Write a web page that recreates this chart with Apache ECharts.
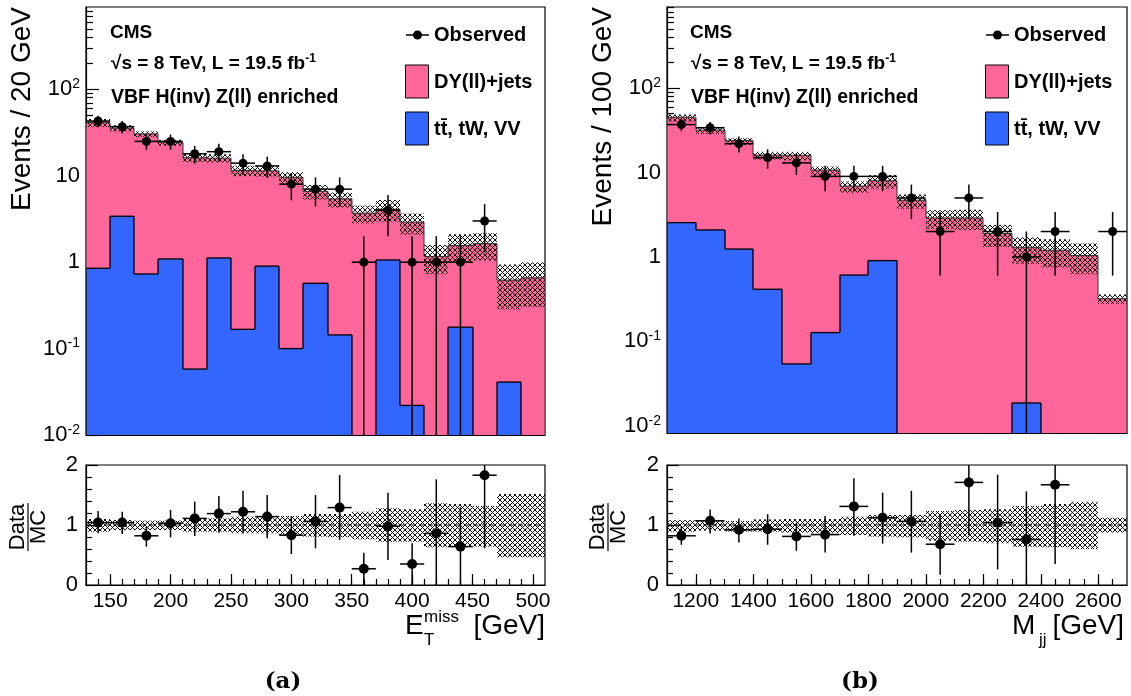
<!DOCTYPE html>
<html><head><meta charset="utf-8">
<script src="https://cdn.jsdelivr.net/npm/echarts@6/dist/echarts.min.js"></script>
<style>html,body{margin:0;padding:0;background:#fff}#c{width:1131px;height:696px}</style>
</head><body><div id="c"></div>
<script>
// ================= DATA =================
// (a) missing transverse energy, 20 GeV bins
const metBinLow = [130,150,170,190,210,230,250,270,290,310,330,350,370,390,410,430,450,470,490];
const metBinWidth = 20;
const metTotalMC = [41.3,35.6,30.5,24.3,16.2,16.0,11.5,11.4,9.6,6.6,5.4,3.7,4.1,2.9,1.16,1.56,1.64,0.62,0.66];
const metTopVV   = [0.85,3.4,0.73,1.09,0.058,1.12,0.167,0.9,0.1,0.57,0.144,0,1.06,0.022,0,0.177,0,0.041,0];
const metObserved = [43,37,25,25,18,19,14,13,8,7,7,1,4,1,1,1,3,0,0];
const metObsErr   = [6.6,6.1,5.0,5.0,4.2,4.4,3.7,3.6,2.8,2.6,2.6,1.0,2.0,1.0,1.0,1.0,1.7,0,0];
const metBandHi = [1.10,1.083,1.072,1.072,1.111,1.111,1.139,1.139,1.15,1.183,1.183,1.222,1.278,1.261,1.361,1.35,1.317,1.517,1.517];
const metBandLo = [0.889,0.917,0.917,0.917,0.889,0.889,0.861,0.861,0.833,0.806,0.794,0.761,0.722,0.722,0.628,0.628,0.639,0.461,0.461];
const metRatio   = [1.04,1.04,0.82,1.03,1.11,1.19,1.22,1.14,0.83,1.06,1.29,0.27,0.98,0.35,0.86,0.64,1.83];
const metRatioHi = [1.233,1.222,0.972,1.25,1.389,1.483,1.572,1.50,1.15,1.50,1.833,0.539,1.539,0.694,1.761,1.294,2.88];
const metRatioLo = [0.861,0.85,0.639,0.794,0.817,0.872,0.861,0.778,0.517,0.611,0.75,0,0.417,0,0,0,0.611];
const metTickLabels = [150,200,250,300,350,400,450,500];

// (b) dijet invariant mass, 100 GeV bins
const mjjBinLow = [1100,1200,1300,1400,1500,1600,1700,1800,1900,2000,2100,2200,2300,2400,2500,2600];
const mjjBinWidth = 100;
const mjjTotalMC = [45.1,31.8,23.9,16.1,16.0,10.7,6.9,8.0,4.7,2.9,2.9,1.9,1.3,1.2,1.04,0.32];
const mjjTopVV   = [2.55,2.09,1.24,0.414,0.054,0.127,0.61,0.905,0,0,0,0,0.0186,0,0,0];
const mjjObserved = [37,34,22,15,13,9,9,9,5,2,5,2,1,2,0,2];
const mjjObsErr   = [6.1,5.8,4.7,3.9,3.6,3.0,3.0,3.0,2.2,1.4,2.2,1.4,1.0,1.4,0,1.4];
const mjjBandHi = [1.08,1.067,1.067,1.094,1.10,1.10,1.139,1.167,1.167,1.233,1.25,1.261,1.317,1.35,1.389,1.122];
const mjjBandLo = [0.889,0.906,0.889,0.889,0.872,0.861,0.833,0.806,0.794,0.739,0.722,0.694,0.639,0.628,0.60,0.872];
const mjjRatio   = [0.82,1.07,0.92,0.93,0.81,0.84,1.31,1.12,1.06,0.68,1.71,1.04,0.76,1.67];
const mjjRatioHi = [0.98,1.26,1.11,1.18,1.04,1.15,1.78,1.54,1.57,1.18,2.2,1.84,1.56,2.3];
const mjjRatioLo = [0.67,0.86,0.71,0.67,0.57,0.54,0.82,0.69,0.54,0.17,0.83,0.26,0,0.35];
const mjjTickLabels = [1200,1400,1600,1800,2000,2200,2400,2600];

const logTickLabels = [0.01,0.1,1,10,100];
const ratioTickLabels = [0,1,2];

// ================= STYLE =================
const FONT = 'Liberation Sans';
const PINK = '#ff6699';
const BLUE = '#3366ff';

const pc = document.createElement('canvas');
pc.width = 5; pc.height = 5;
const g2 = pc.getContext('2d');
g2.strokeStyle = 'rgba(0,0,0,0.95)';
g2.lineWidth = 1;
g2.beginPath(); g2.moveTo(0,0); g2.lineTo(5,5); g2.moveTo(5,0); g2.lineTo(0,5); g2.stroke();
const HATCH = {image: pc, repeat: 'repeat'};

function range(a, b, s){ const r=[]; for(let v=a; v<=b+1e-9; v+=s) r.push(+v.toFixed(6)); return r; }
function logMinor(e0, e1){ const r=[]; for(let e=e0;e<=e1;e++) for(let k=2;k<=9;k++) r.push(+(k*Math.pow(10,e)).toPrecision(3)); return r; }

function logFmt(v){
  const e = Math.round(Math.log10(v));
  if (e === 0) return '1';
  if (e === 1) return '10';
  return '{b|10}{s|' + e + '}';
}
const logRich = {
  b:{fontSize:22, fontFamily:FONT, color:'#000'},
  s:{fontSize:14, fontFamily:FONT, color:'#000', padding:[0,0,10,0]}
};

// ================= AXES =================
const grids = [
  {left:86, top:7, width:459, height:428},
  {left:86, top:465, width:459, height:120},
  {left:667, top:7, width:460, height:426},
  {left:667, top:465, width:460, height:120}
].map(g => Object.assign({show:true, borderColor:'#000', borderWidth:1.2, backgroundColor:'transparent', outerBoundsMode:'none', containLabel:false}, g));

const xAxes = [], yAxes = [];
function addX(grid, min, max, major, minor, showLabels){
  xAxes.push({type:'value', gridIndex:grid, min, max, position:'bottom',
    axisLine:{show:true, onZero:false, lineStyle:{color:'#000', width:1.2}},
    axisTick:{show:true, inside:true, length:11, customValues:major, lineStyle:{color:'#000', width:1.2}},
    axisLabel:{show:showLabels, customValues:major, formatter:v => String(v), fontSize:21, fontFamily:FONT, color:'#000', margin:6},
    splitLine:{show:false}});
  const idx = xAxes.length - 1;
  xAxes.push({type:'value', gridIndex:grid, min, max, position:'bottom',
    axisLine:{show:false, onZero:false},
    axisTick:{show:true, inside:true, length:6, customValues:minor, lineStyle:{color:'#000', width:1.2}},
    axisLabel:{show:false}, splitLine:{show:false}});
  return idx;
}
function addYLog(grid, min, max){
  yAxes.push({type:'log', logBase:10, gridIndex:grid, min, max, position:'left',
    axisLine:{show:true, onZero:false, lineStyle:{color:'#000', width:1.2}},
    axisTick:{show:true, inside:true, length:13, customValues:logTickLabels, lineStyle:{color:'#000', width:1.2}},
    axisLabel:{show:true, customValues:logTickLabels, formatter:logFmt, rich:logRich, fontSize:22, fontFamily:FONT, color:'#000', margin:6},
    splitLine:{show:false}});
  const idx = yAxes.length - 1;
  yAxes.push({type:'log', logBase:10, gridIndex:grid, min, max, position:'left',
    axisLine:{show:false},
    axisTick:{show:true, inside:true, length:7, customValues:logMinor(-3,2), lineStyle:{color:'#000', width:1.2}},
    axisLabel:{show:false}, splitLine:{show:false}});
  return idx;
}
function addYRatio(grid){
  yAxes.push({type:'value', gridIndex:grid, min:0, max:2, position:'left',
    axisLine:{show:true, onZero:false, lineStyle:{color:'#000', width:1.2}},
    axisTick:{show:true, inside:true, length:12, customValues:ratioTickLabels, lineStyle:{color:'#000', width:1.2}},
    axisLabel:{show:true, customValues:ratioTickLabels, fontSize:22, fontFamily:FONT, color:'#000', margin:8},
    splitLine:{show:false}});
  const idx = yAxes.length - 1;
  yAxes.push({type:'value', gridIndex:grid, min:0, max:2, position:'left',
    axisLine:{show:false},
    axisTick:{show:true, inside:true, length:6, customValues:range(0.2,1.8,0.2), lineStyle:{color:'#000', width:1.2}},
    axisLabel:{show:false}, splitLine:{show:false}});
  return idx;
}

const xA = addX(0, 130, 510, metTickLabels, range(140,500,10), false);
const yA = addYLog(0, 0.01, 898);
const xAr = addX(1, 130, 510, metTickLabels, range(140,500,10), true);
const yAr = addYRatio(1);
const xB = addX(2, 1100, 2700, mjjTickLabels, range(1150,2650,50), false);
const yB = addYLog(2, 0.0082, 915);
const xBr = addX(3, 1100, 2700, mjjTickLabels, range(1150,2650,50), true);
const yBr = addYRatio(3);

// ================= SERIES BUILDERS =================
function histSeries(xi, yi, low, w, vals, fill, stroke, lw, z){
  return {type:'custom', xAxisIndex:xi, yAxisIndex:yi, z, silent:true, clip:true,
    encode:{x:[0,1], y:2},
    data: vals.map((v,i)=>[low[i], low[i]+w, v]),
    renderItem(params, api){
      const cs = params.coordSys, bottom = cs.y + cs.height, top = cs.y;
      const i = params.dataIndex;
      const lo = api.value(0), hi = api.value(1), v = api.value(2);
      const yOf = val => val > 0 ? Math.max(top, Math.min(bottom, api.coord([lo, val])[1])) : bottom;
      const x0 = Math.round(api.coord([lo, 1])[0]), x1 = Math.round(api.coord([hi, 1])[0]);
      const y = yOf(v);
      const ch = [];
      if (fill && v > 0) ch.push({type:'rect', shape:{x:x0, y:y, width:x1-x0, height:bottom-y}, style:{fill}});
      if (stroke){
        const yp = i > 0 ? yOf(vals[i-1]) : bottom;
        const st = {stroke, lineWidth:lw};
        ch.push({type:'line', shape:{x1:x0, y1:yp, x2:x0, y2:y}, style:st});
        if (v > 0) ch.push({type:'line', shape:{x1:x0, y1:y, x2:x1, y2:y}, style:st});
        if (i === vals.length - 1) ch.push({type:'line', shape:{x1:x1, y1:y, x2:x1, y2:bottom}, style:st});
      }
      return {type:'group', children:ch};
    }};
}
function bandSeries(xi, yi, low, w, lowVals, highVals, z){
  return {type:'custom', xAxisIndex:xi, yAxisIndex:yi, z, silent:true, clip:true,
    encode:{x:[0,1], y:[2,3]},
    data: lowVals.map((v,i)=>[low[i], low[i]+w, v, highVals[i]]),
    renderItem(params, api){
      const cs = params.coordSys, bottom = cs.y + cs.height, top = cs.y;
      const lo = api.value(0), hi = api.value(1);
      const x0 = Math.round(api.coord([lo, 1])[0]), x1 = Math.round(api.coord([hi, 1])[0]);
      const ya = Math.min(bottom, api.coord([lo, api.value(2)])[1]);
      const yb = Math.max(top, api.coord([lo, api.value(3)])[1]);
      return {type:'rect', shape:{x:x0, y:yb, width:x1-x0, height:ya-yb}, style:{fill:HATCH}};
    }};
}
function pointSeries(xi, yi, low, w, vals, lows, highs, r, z){
  return {type:'custom', xAxisIndex:xi, yAxisIndex:yi, z, silent:true, clip:true,
    encode:{x:[0,1], y:2},
    data: vals.map((v,i)=>[low[i], low[i]+w, v, lows[i], highs[i]]),
    renderItem(params, api){
      const v = api.value(2);
      if (!(v > 0)) return null;
      const cs = params.coordSys, bottom = cs.y + cs.height, top = cs.y;
      const lo = api.value(0), hi = api.value(1), xc = (lo + hi) / 2;
      const p = api.coord([xc, v]);
      const eL = api.value(3), eH = api.value(4);
      const yl = eL > 0 ? Math.min(bottom, api.coord([xc, eL])[1]) : bottom;
      const yh = Math.max(top, api.coord([xc, eH])[1]);
      const x0 = api.coord([lo, v])[0], x1 = api.coord([hi, v])[0];
      const st = {stroke:'#000', lineWidth:1.5};
      return {type:'group', children:[
        {type:'line', shape:{x1:p[0], y1:yl, x2:p[0], y2:yh}, style:st},
        {type:'line', shape:{x1:x0, y1:p[1], x2:x1, y2:p[1]}, style:st},
        {type:'circle', shape:{cx:p[0], cy:p[1], r}, style:{fill:'#000'}}
      ]};
    }};
}
function unityLine(xi, yi, min, max){
  return {type:'line', xAxisIndex:xi, yAxisIndex:yi, z:4, silent:true, symbol:'none',
    data:[[min,1],[max,1]], lineStyle:{color:'#222', width:1, type:[5,4]}};
}

const series = [
  // (a) main
  histSeries(xA, yA, metBinLow, metBinWidth, metTotalMC, PINK, null, 1, 1),
  histSeries(xA, yA, metBinLow, metBinWidth, metTopVV, BLUE, '#000', 1.3, 2),
  bandSeries(xA, yA, metBinLow, metBinWidth, metTotalMC.map((t,i)=>t*metBandLo[i]), metTotalMC.map((t,i)=>t*metBandHi[i]), 3),
  histSeries(xA, yA, metBinLow, metBinWidth, metTotalMC, null, '#333', 1, 4),
  pointSeries(xA, yA, metBinLow, metBinWidth, metObserved, metObserved.map((n,i)=>n-metObsErr[i]), metObserved.map((n,i)=>n+metObsErr[i]), 4.5, 5),
  // (a) ratio
  bandSeries(xAr, yAr, metBinLow, metBinWidth, metBandLo, metBandHi, 3),
  unityLine(xAr, yAr, 130, 510),
  pointSeries(xAr, yAr, metBinLow, metBinWidth, metRatio, metRatioLo, metRatioHi, 5, 5),
  // (b) main
  histSeries(xB, yB, mjjBinLow, mjjBinWidth, mjjTotalMC, PINK, null, 1, 1),
  histSeries(xB, yB, mjjBinLow, mjjBinWidth, mjjTopVV, BLUE, '#000', 1.3, 2),
  bandSeries(xB, yB, mjjBinLow, mjjBinWidth, mjjTotalMC.map((t,i)=>t*mjjBandLo[i]), mjjTotalMC.map((t,i)=>t*mjjBandHi[i]), 3),
  histSeries(xB, yB, mjjBinLow, mjjBinWidth, mjjTotalMC, null, '#333', 1, 4),
  pointSeries(xB, yB, mjjBinLow, mjjBinWidth, mjjObserved, mjjObserved.map((n,i)=>n-mjjObsErr[i]), mjjObserved.map((n,i)=>n+mjjObsErr[i]), 4.5, 5),
  // (b) ratio
  bandSeries(xBr, yBr, mjjBinLow, mjjBinWidth, mjjBandLo, mjjBandHi, 3),
  unityLine(xBr, yBr, 1100, 2700),
  pointSeries(xBr, yBr, mjjBinLow, mjjBinWidth, mjjRatio, mjjRatioLo, mjjRatioHi, 5, 5)
];

// ================= TEXT / LEGEND =================
function T(x, y, text, size, extra){
  const st = Object.assign({text, fontSize:size, fontFamily:FONT, fill:'#000', verticalAlign:'middle', align:'left'}, extra || {});
  return {type:'text', x, y, z:100, style:st};
}
function panelGraphics(dx, yTitle, xTitleParts){
  const B = {fontWeight:'bold'};
  const els = [
    T(110+dx, 33, 'CMS', 19, B),
    T(111+dx, 64, '{a|\u221As = 8 TeV, L = 19.5 fb}{s|-1}', 19, {fontWeight:'bold', rich:{
      a:{fontSize:19, fontWeight:'bold', fontFamily:FONT},
      s:{fontSize:12, fontWeight:'bold', fontFamily:FONT, padding:[0,0,10,0]}}}),
    T(111+dx, 98, 'VBF H(inv) Z(ll) enriched', 19.5, B),
    // legend
    {type:'line', z:100, shape:{x1:406+dx, y1:35, x2:429+dx, y2:35}, style:{stroke:'#000', lineWidth:1.5}},
    {type:'circle', z:101, shape:{cx:417.5+dx, cy:35, r:4.5}, style:{fill:'#000'}},
    T(434+dx, 35, 'Observed', 20, B),
    {type:'rect', z:100, shape:{x:405.5+dx, y:65, width:23, height:33}, style:{fill:PINK, stroke:'#000', lineWidth:1}},
    T(434+dx, 82, 'DY(ll)+jets', 20, B),
    {type:'rect', z:100, shape:{x:405.5+dx, y:112, width:23, height:33}, style:{fill:BLUE, stroke:'#000', lineWidth:1}},
    T(434+dx, 129, 't\u0074\u0304, tW, VV', 20, B),
    // y titles
    {type:'text', z:100, x:yTitle.x, y:7, rotation:Math.PI/2, style:{text:yTitle.text, fontSize:28, fontFamily:FONT, fill:'#000', align:'right', verticalAlign:'middle'}},
    {type:'group', z:100, x:28+dx, y:527, rotation:Math.PI/2, children:[
      {type:'text', x:0, y:-10, style:{text:'Data', fontSize:22, fontFamily:FONT, fill:'#000', align:'center', verticalAlign:'middle'}},
      {type:'line', shape:{x1:-24, y1:0, x2:24, y2:0}, style:{stroke:'#000', lineWidth:1.2}},
      {type:'text', x:0, y:11, style:{text:'MC', fontSize:22, fontFamily:FONT, fill:'#000', align:'center', verticalAlign:'middle'}}
    ]}
  ];
  return els.concat(xTitleParts);
}

const graphics = [].concat(
  panelGraphics(0, {x:22, text:'Events / 20 GeV'}, [
    T(405, 626, 'E', 28),
    T(424, 617, 'miss', 17),
    T(424, 640, 'T', 17),
    T(545, 626, '[GeV]', 28, {align:'right'}),
    T(283, 682, '(a)', 23, {fontFamily:'DejaVu Serif', fontWeight:'bold', align:'center'})
  ]),
  panelGraphics(580, {x:603, text:'Events / 100 GeV'}, [
    T(1012, 626, 'M', 28),
    T(1039, 640, 'jj', 17),
    T(1124, 626, '[GeV]', 28, {align:'right'}),
    T(860, 682, '(b)', 23, {fontFamily:'DejaVu Serif', fontWeight:'bold', align:'center'})
  ])
);

const chart = echarts.init(document.getElementById('c'), null, {renderer:'canvas'});
chart.setOption({
  animation:false,
  backgroundColor:'#fff',
  grid: grids,
  xAxis: xAxes,
  yAxis: yAxes,
  series,
  graphic: graphics
});
</script>
</body></html>
